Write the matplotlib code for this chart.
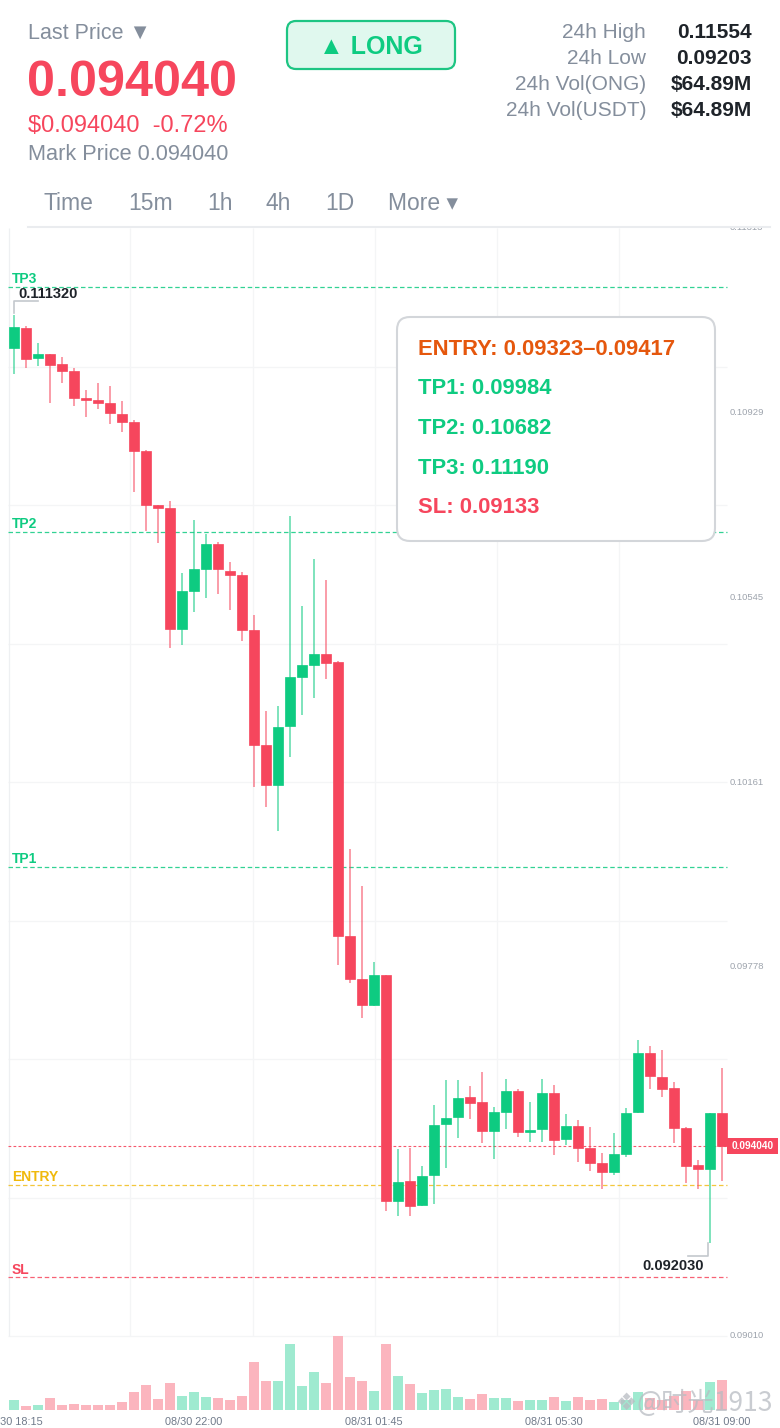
import matplotlib
matplotlib.use('Agg')
import matplotlib.pyplot as plt
from matplotlib.patches import Rectangle, FancyBboxPatch
import numpy as np

plt.rcParams['font.family'] = ['Liberation Sans', 'DejaVu Sans']

# ---------------- data ----------------
opens = [0.11064, 0.11105, 0.11043, 0.11051, 0.11030, 0.11015, 0.10959, 0.10955, 0.10949, 0.10927,
         0.10910, 0.10850, 0.10737, 0.10732, 0.10480, 0.10559, 0.10604, 0.10656, 0.10601, 0.10592,
         0.10477, 0.10238, 0.10155, 0.10277, 0.10379, 0.10405, 0.10427, 0.10411, 0.09841, 0.09751,
         0.09697, 0.09760, 0.09291, 0.09332, 0.09282, 0.09345, 0.09450, 0.09465, 0.09507, 0.09496,
         0.09436, 0.09475, 0.09519, 0.09434, 0.09440, 0.09515, 0.09419, 0.09446, 0.09401, 0.09370,
         0.09351, 0.09389, 0.09475, 0.09598, 0.09548, 0.09525, 0.09442, 0.09365, 0.09358, 0.09473]
highs = [0.11132, 0.11110, 0.11073, 0.11052, 0.11045, 0.11021, 0.10976, 0.10991, 0.10985, 0.10953,
         0.10914, 0.10852, 0.10738, 0.10746, 0.10595, 0.10706, 0.10676, 0.10660, 0.10619, 0.10597,
         0.10508, 0.10309, 0.10320, 0.10714, 0.10527, 0.10625, 0.10581, 0.10412, 0.10022, 0.09946,
         0.09787, 0.09761, 0.09399, 0.09400, 0.09363, 0.09490, 0.09542, 0.09542, 0.09530, 0.09559,
         0.09487, 0.09544, 0.09523, 0.09496, 0.09544, 0.09532, 0.09471, 0.09459, 0.09445, 0.09391,
         0.09431, 0.09483, 0.09625, 0.09613, 0.09604, 0.09538, 0.09445, 0.09376, 0.09474, 0.09568]
lows = [0.11010, 0.11023, 0.11027, 0.10949, 0.10990, 0.10944, 0.10921, 0.10937, 0.10905, 0.10888,
        0.10765, 0.10683, 0.10659, 0.10439, 0.10446, 0.10514, 0.10543, 0.10552, 0.10520, 0.10455,
        0.10151, 0.10110, 0.10060, 0.10214, 0.10301, 0.10336, 0.10376, 0.09781, 0.09743, 0.09672,
        0.09695, 0.09270, 0.09260, 0.09260, 0.09281, 0.09284, 0.09360, 0.09422, 0.09462, 0.09411,
        0.09377, 0.09440, 0.09424, 0.09414, 0.09413, 0.09386, 0.09407, 0.09372, 0.09353, 0.09315,
        0.09344, 0.09383, 0.09474, 0.09524, 0.09506, 0.09412, 0.09329, 0.09315, 0.09203, 0.09333]
closes = [0.11107, 0.11041, 0.11051, 0.11029, 0.11015, 0.10959, 0.10955, 0.10949, 0.10929, 0.10910,
          0.10850, 0.10737, 0.10732, 0.10479, 0.10559, 0.10604, 0.10656, 0.10604, 0.10592, 0.10477,
          0.10239, 0.10155, 0.10276, 0.10379, 0.10405, 0.10428, 0.10408, 0.09841, 0.09751, 0.09697,
          0.09760, 0.09291, 0.09331, 0.09281, 0.09343, 0.09449, 0.09463, 0.09505, 0.09495, 0.09437,
          0.09475, 0.09519, 0.09433, 0.09439, 0.09515, 0.09418, 0.09446, 0.09401, 0.09370, 0.09351,
          0.09388, 0.09474, 0.09598, 0.09550, 0.09524, 0.09442, 0.09364, 0.09358, 0.09473, 0.09404]
volumes = [30, 12, 15, 36, 15, 18, 14, 16, 14, 24,
           55, 74, 32, 82, 42, 55, 39, 36, 30, 42,
           145, 87, 87, 198, 73, 115, 81, 223, 99, 87,
           57, 199, 102, 78, 51, 61, 63, 38, 34, 47,
           37, 37, 28, 31, 31, 40, 28, 38, 29, 34,
           25, 30, 54, 35, 30, 42, 58, 30, 84, 90]

tick_idx = [0, 15, 30, 45, 59]
tick_labels = ['08/30 18:15', '08/30 22:00', '08/31 01:45', '08/31 05:30', '08/31 09:00']
price_ticks = [0.11313, 0.10929, 0.10545, 0.10161, 0.09778, 0.09394, 0.09010]
price_tick_labels = ['0.11313', '0.10929', '0.10545', '0.10161', '0.09778', '0.09394', '0.09010']

tp_levels = [0.09984, 0.10682, 0.11190]
tp_names = ['TP1', 'TP2', 'TP3']
entry_lo, entry_hi = 0.09323, 0.09417
sl_level = 0.09133
last_price = 0.09404

stat_labels = ['24h High', '24h Low', '24h Vol(ONG)', '24h Vol(USDT)']
stat_values = ['0.11554', '0.09203', '$64.89M', '$64.89M']
tabs = ['Time', '15m', '1h', '4h', '1D', 'More ▾']

# ---------------- style ----------------
GREEN = '#0ecb81'
RED = '#f6465d'
YELLOW = '#f0b90b'
GRAY = '#848e9c'
DARK = '#1e2329'
GRID = '#f4f5f6'

W, H = 780, 1428
fig = plt.figure(figsize=(W / 100, H / 100), dpi=100)
fig.patch.set_facecolor('white')


def fx(x):
    return x / W


def fy(y):
    return 1 - y / H


top_p, bot_p = price_ticks[0], price_ticks[-1]
k = (top_p - bot_p) / 1108.0  # price per pixel
xmax_idx = (780 - 14) / 12.0
right_idx = (727 - 14) / 12.0

ax = fig.add_axes([fx(8), fy(1410), fx(780) - fx(8), fy(228) - fy(1410)])
ax.set_xlim(-0.5, xmax_idx)
ax.set_ylim(bot_p - 74 * k, top_p)
ax.axis('off')

# grid
for gp in np.linspace(top_p, bot_p, 9)[1:]:
    ax.hlines(gp, -0.5, right_idx, color=GRID, lw=0.9, zorder=0)
for gx in [130, 253, 375, 497, 619]:
    ax.vlines((gx - 14) / 12.0, bot_p, top_p, color=GRID, lw=0.9, zorder=0)
ax.vlines(-0.45, bot_p, top_p, color='#eef0f2', lw=0.9, zorder=0)

# level lines
dash = (0, (3.6, 2.2))
for lv, nm in zip(tp_levels, tp_names):
    ax.hlines(lv, -0.5, right_idx, color=GREEN, lw=0.9, linestyle=dash, alpha=0.85, zorder=1)
    ax.text(-0.17, lv + 4 * k, nm, color=GREEN, fontsize=10, weight='bold',
            ha='left', va='baseline', zorder=5)
ax.hlines(entry_lo, -0.5, right_idx, color=YELLOW, lw=0.9, linestyle=dash, alpha=0.8, zorder=1)
ax.text(-0.17, entry_lo + 4 * k, 'ENTRY', color=YELLOW, fontsize=10, weight='bold',
        ha='left', va='baseline', zorder=5)
ax.hlines(sl_level, -0.5, right_idx, color=RED, lw=0.9, linestyle=dash, alpha=0.85, zorder=1)
ax.text(-0.17, sl_level + 3 * k, 'SL', color=RED, fontsize=10, weight='bold',
        ha='left', va='baseline', zorder=5)
ax.hlines(last_price, -0.5, right_idx, color=RED, lw=0.8, linestyle=(0, (2.5, 2)), alpha=0.9, zorder=1)

# candles
bw = 10 / 12.0
for i, (o, h, l, c) in enumerate(zip(opens, highs, lows, closes)):
    col = GREEN if c >= o else RED
    ax.vlines(i, l, h, color=col, lw=1.15, alpha=0.65, zorder=2)
    b0 = min(o, c)
    bh = max(abs(c - o), 2.2 * k)
    ax.add_patch(Rectangle((i - bw / 2, b0), bw, bh, facecolor=col, edgecolor=col,
                           lw=0.5, zorder=3))

# price axis labels
for p, lab in zip(price_ticks, price_tick_labels):
    ax.text((730 - 14) / 12.0, p, lab, fontsize=6.8, color='#9ea4ad', ha='left', va='center',
            clip_on=True, zorder=4)

# high marker
hi_i = int(np.argmax(highs))
hi = highs[hi_i]
ax.plot([hi_i, hi_i, hi_i + 1.97], [hi + 2.3 * k, hi + 14 * k, hi + 14 * k], color='#c4c8cd', lw=1.2, zorder=4)
ax.text(hi_i + 0.36, hi + 17.5 * k, f'{hi:.6f}', fontsize=10.5, weight='bold', color=DARK,
        ha='left', va='baseline', zorder=5)
# low marker
lo_i = int(np.argmin(lows))
lo = lows[lo_i]
lx = lo_i - 0.14
ax.plot([lx, lx, lx - 1.68], [lo, lo - 13 * k, lo - 13 * k], color='#c4c8cd', lw=1.2, zorder=4)
ax.text(lx - 0.35, lo - 26.5 * k, f'{lo:.6f}', fontsize=10.5, weight='bold', color=DARK,
        ha='right', va='baseline', zorder=5)

# volume
axv = fig.add_axes([fx(8), fy(1410), fx(780) - fx(8), fy(1336) - fy(1410)])
axv.set_xlim(-0.5, xmax_idx)
axv.set_ylim(0, max(volumes))
axv.axis('off')
vcols = ['#9fead0' if c >= o else '#fbb5be' for o, c in zip(opens, closes)]
axv.bar(range(len(volumes)), volumes, width=bw, color=vcols, zorder=2)
for ti, tl in zip(tick_idx, tick_labels):
    axv.text(ti, -12 / 74.0, tl, transform=axv.get_xaxis_transform(), fontsize=7.8,
             color='#707a8a', ha='center', va='center', clip_on=False)

# ---------------- overlay (pixel coords) ----------------
ov = fig.add_axes([0, 0, 1, 1])
ov.set_xlim(0, W)
ov.set_ylim(H, 0)
ov.axis('off')
ov.patch.set_alpha(0)

ov.text(28, 39, 'Last Price ▼', fontsize=15.5, color=GRAY, va='baseline')
ov.text(27, 95.5, '0.094040', fontsize=36.3, weight='bold', color=RED, va='baseline')
ov.text(28, 132.5, '$0.094040  -0.72%', fontsize=17, color=RED, va='baseline')
ov.text(28, 160, 'Mark Price 0.094040', fontsize=15.7, color=GRAY, va='baseline')

ov.add_patch(FancyBboxPatch((287, 21), 168, 48, boxstyle='round,pad=0,rounding_size=9',
                            facecolor='#e0f8ee', edgecolor='#1ec583', lw=1.6))
ov.text(371, 54, '▲ LONG', fontsize=18, weight='bold', color=GREEN, ha='center', va='baseline')

for j, (sl, sv) in enumerate(zip(stat_labels, stat_values)):
    yb = 38.5 + 26 * j
    ov.text(646, yb, sl, fontsize=15, color=GRAY, ha='right', va='baseline')
    ov.text(752, yb, sv, fontsize=15, weight='bold', color=DARK, ha='right', va='baseline')

for tx, tb in zip([44, 128, 207, 266, 325, 388], tabs):
    ov.text(tx, 210, tb, fontsize=16.5, color=GRAY, ha='left', va='baseline')
ov.plot([28, 770], [227, 227], color='#eaecef', lw=1.5)

# info box
ov.add_patch(FancyBboxPatch((397, 317), 318, 224, boxstyle='round,pad=0,rounding_size=13',
                            facecolor='white', edgecolor='#d3d6da', lw=1.5, zorder=6))
info = [(f'ENTRY: {entry_lo:.5f}–{entry_hi:.5f}', '#e5570d'),
        (f'TP1: {tp_levels[0]:.5f}', GREEN),
        (f'TP2: {tp_levels[1]:.5f}', GREEN),
        (f'TP3: {tp_levels[2]:.5f}', GREEN),
        (f'SL: {sl_level:.5f}', RED)]
for j, (t, c) in enumerate(info):
    ov.text(418, 355 + 39.5 * j, t, fontsize=15.8, weight='bold', color=c, ha='left',
            va='baseline', zorder=7)

# last price tag
ly = 228 + (top_p - last_price) / k
ov.add_patch(Rectangle((727, ly - 8), 51, 16, facecolor=RED, edgecolor='none', zorder=6))
ov.text(752.5, ly, f'{last_price:.6f}', fontsize=7.3, color='white', weight='bold',
        ha='center', va='center', zorder=7)

# watermark
ov.text(626, 1403, '❖', fontsize=17, color='#b8bcc2', alpha=0.75, ha='center', va='center',
        family=['DejaVu Sans'])
ov.text(773, 1403, '@时光1913', fontsize=19, color='#b8bcc2', alpha=0.75, ha='right', va='center',
        family=['Noto Sans CJK SC', 'DejaVu Sans'])

fig.savefig('out.png', dpi=100, facecolor='white')
